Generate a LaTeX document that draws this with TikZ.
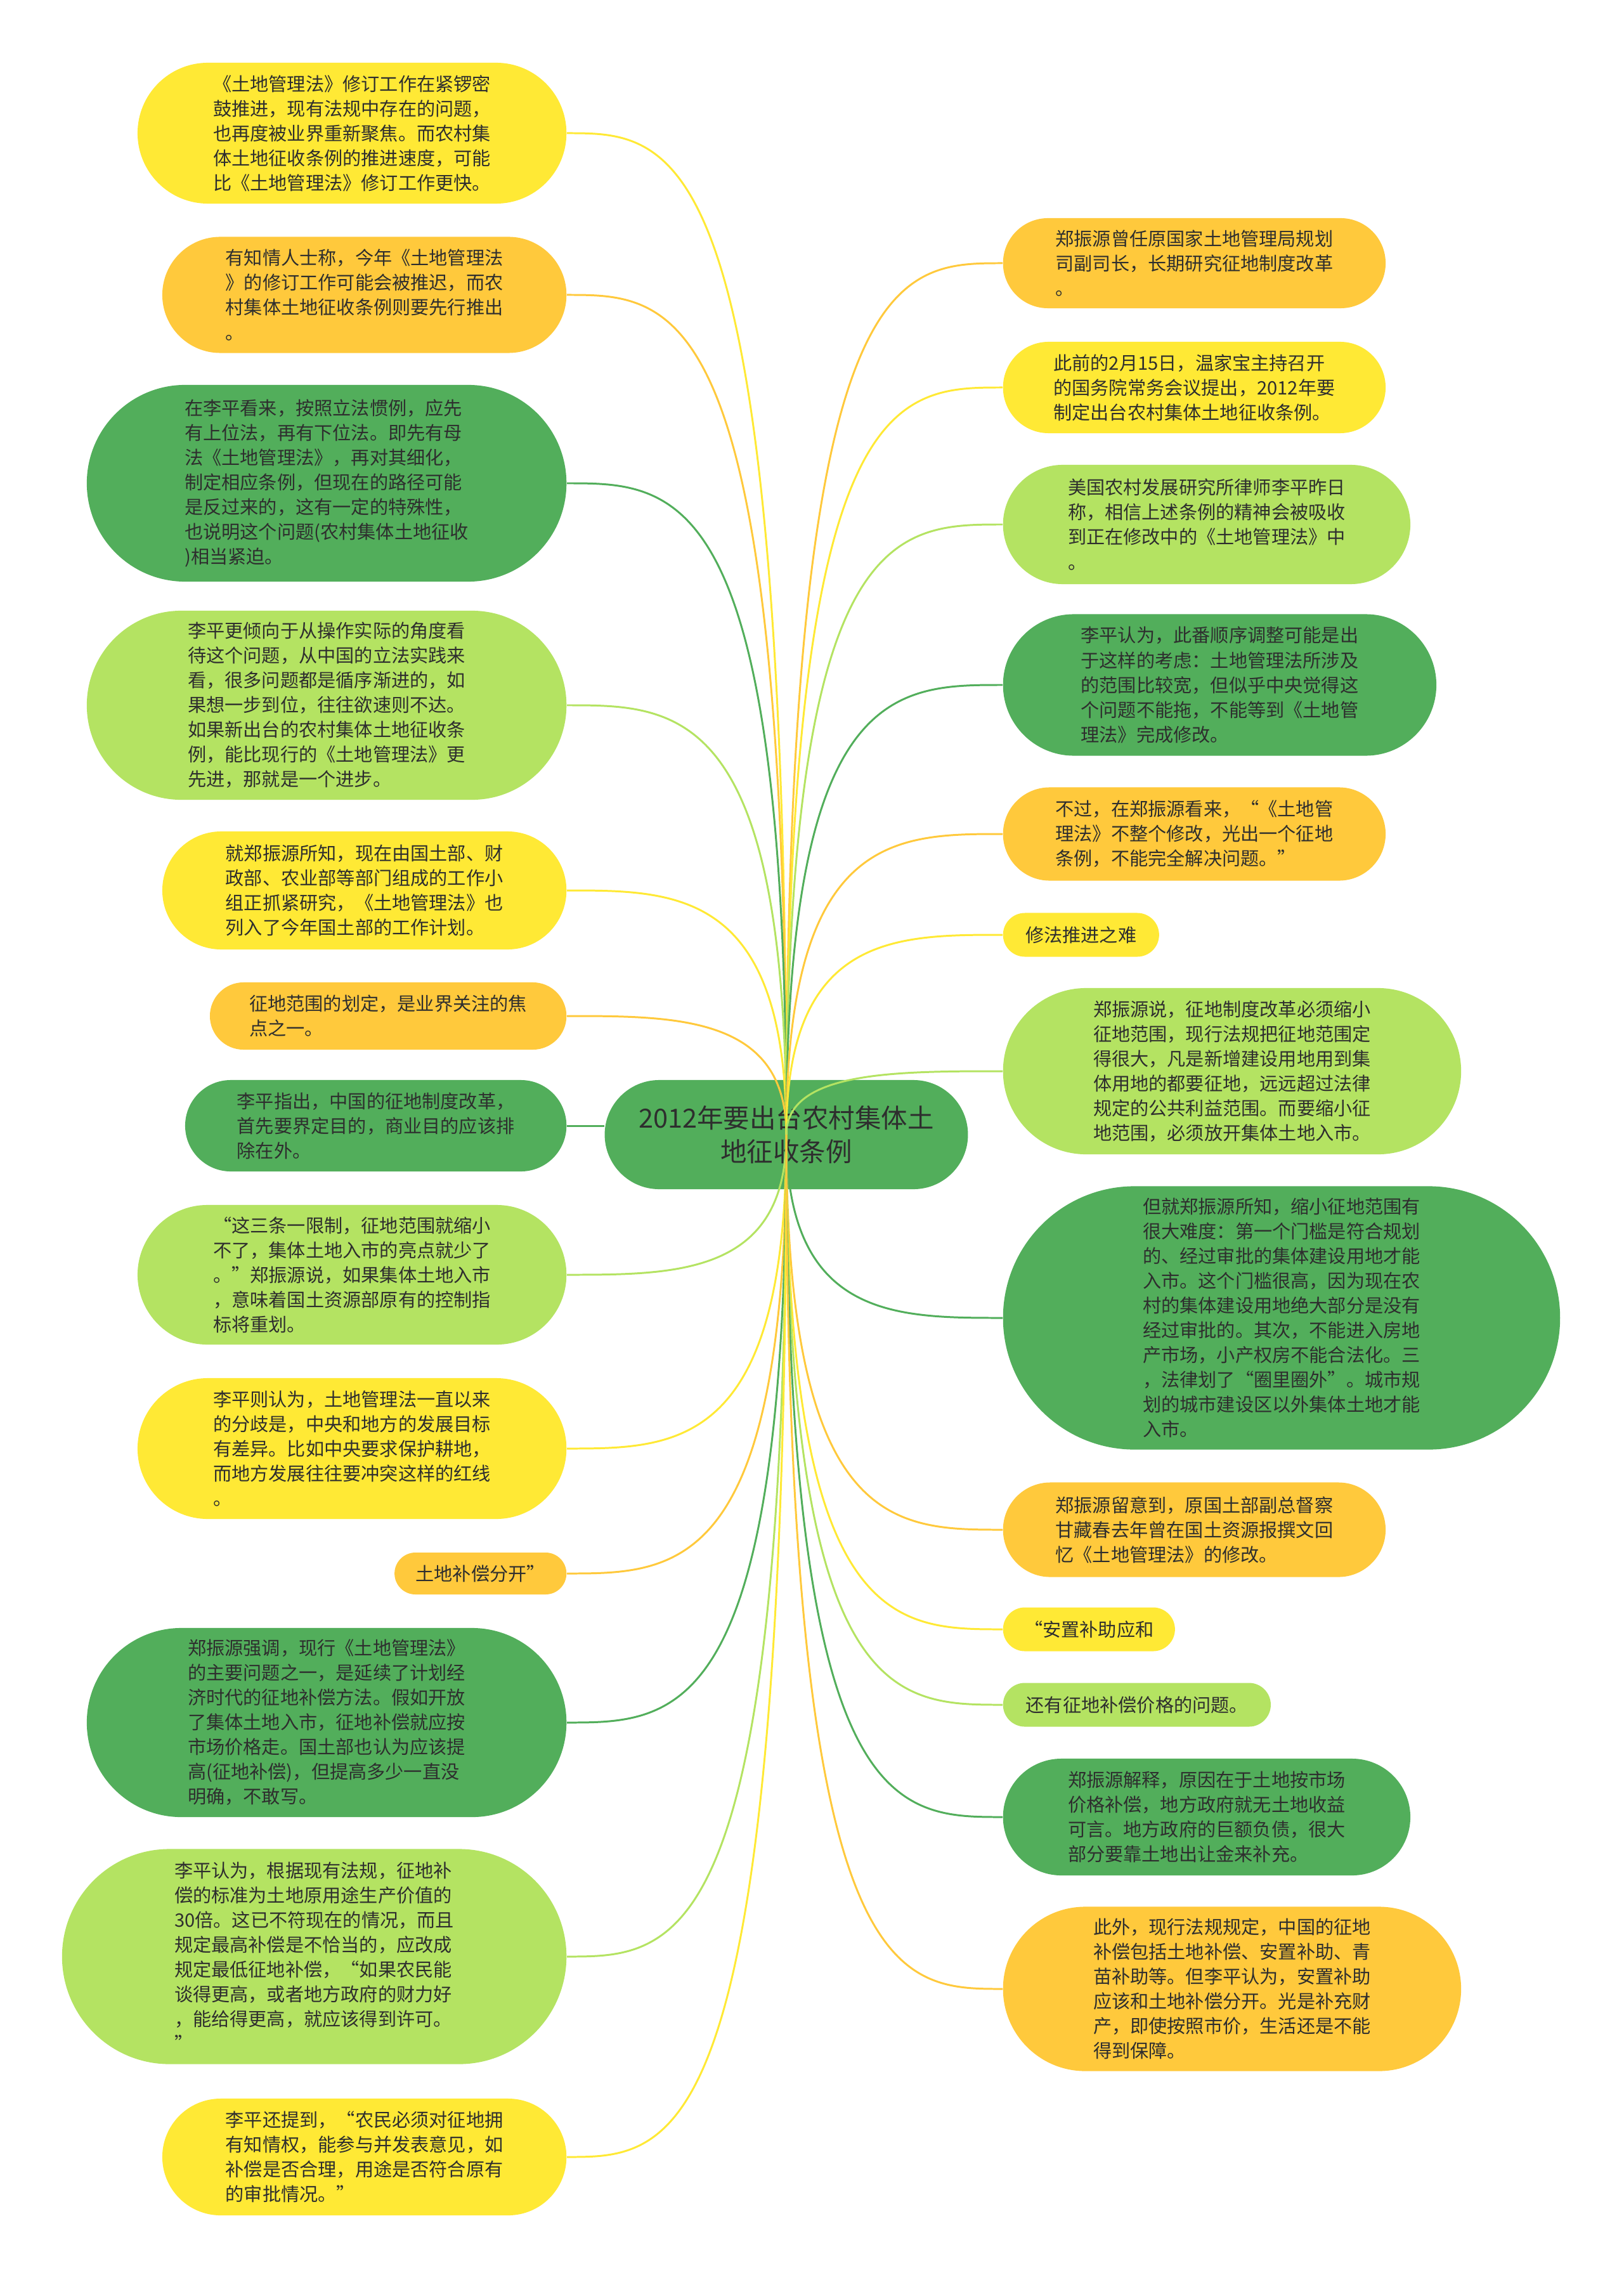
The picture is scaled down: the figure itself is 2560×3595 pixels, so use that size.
\documentclass[tikz,border=0pt]{standalone}
\usepackage{fontspec}
\newfontfamily\cjk{Noto Sans CJK SC}
\usetikzlibrary{shapes.misc}

\definecolor{yel}{HTML}{FFE935}
\definecolor{org}{HTML}{FFC93C}
\definecolor{dgn}{HTML}{52AE5B}
\definecolor{lgn}{HTML}{B4E362}

\begin{document}
\begin{tikzpicture}[x=0.01cm, y=-0.01cm,
  leaf/.style={rounded rectangle, inner sep=0pt, text=black!82, align=left,
    font=\cjk\fontsize{8.3}{11.1}\selectfont},
  link/.style={line width=0.85pt}]

\useasboundingbox (0,0) rectangle (2560,3595);

\node [rounded rectangle, fill=dgn, text=black!82, align=center, minimum width=5.96cm, minimum height=1.72cm,
  font=\cjk\fontsize{11.8}{15}\selectfont] (0) at (1240,1789) {2012年要出台农村集体土\\地征收条例};

% left side
\node [leaf, fill=yel, anchor=east, minimum width=6.76cm, minimum height=2.22cm] (1) at (894,210)
  {《土地管理法》修订工作在紧锣密\\鼓推进，现有法规中存在的问题，\\也再度被业界重新聚焦。而农村集\\体土地征收条例的推进速度，可能\\比《土地管理法》修订工作更快。};
\node [leaf, fill=org, anchor=east, minimum width=6.37cm, minimum height=1.83cm] (2) at (894,465)
  {有知情人士称，今年《土地管理法\\》的修订工作可能会被推迟，而农\\村集体土地征收条例则要先行推出\\。};
\node [leaf, fill=dgn, anchor=east, minimum width=7.56cm, minimum height=3.10cm] (3) at (894,762)
  {在李平看来，按照立法惯例，应先\\有上位法，再有下位法。即先有母\\法《土地管理法》，再对其细化，\\制定相应条例，但现在的路径可能\\是反过来的，这有一定的特殊性，\\也说明这个问题(农村集体土地征收\\)相当紧迫。};
\node [leaf, fill=lgn, anchor=east, minimum width=7.56cm, minimum height=2.98cm] (4) at (894,1112)
  {李平更倾向于从操作实际的角度看\\待这个问题，从中国的立法实践来\\看，很多问题都是循序渐进的，如\\果想一步到位，往往欲速则不达。\\如果新出台的农村集体土地征收条\\例，能比现行的《土地管理法》更\\先进，那就是一个进步。};
\node [leaf, fill=yel, anchor=east, minimum width=6.37cm, minimum height=1.86cm] (5) at (894,1404)
  {就郑振源所知，现在由国土部、财\\政部、农业部等部门组成的工作小\\组正抓紧研究，《土地管理法》也\\列入了今年国土部的工作计划。};
\node [leaf, fill=org, anchor=east, minimum width=5.62cm, minimum height=1.06cm] (6) at (894,1602)
  {征地范围的划定，是业界关注的焦\\点之一。};
\node [leaf, fill=dgn, anchor=east, minimum width=6.01cm, minimum height=1.44cm] (7) at (894,1775)
  {李平指出，中国的征地制度改革，\\首先要界定目的，商业目的应该排\\除在外。};
\node [leaf, fill=lgn, anchor=east, minimum width=6.76cm, minimum height=2.20cm] (8) at (894,2010)
  {“这三条一限制，征地范围就缩小\\不了，集体土地入市的亮点就少了\\。”郑振源说，如果集体土地入市\\，意味着国土资源部原有的控制指\\标将重划。};
\node [leaf, fill=yel, anchor=east, minimum width=6.76cm, minimum height=2.22cm] (9) at (894,2284)
  {李平则认为，土地管理法一直以来\\的分歧是，中央和地方的发展目标\\有差异。比如中央要求保护耕地，\\而地方发展往往要冲突这样的红线\\。};
\node [leaf, fill=org, anchor=east, minimum width=2.71cm, minimum height=0.66cm] (10) at (894,2481)
  {土地补偿分开”};
\node [leaf, fill=dgn, anchor=east, minimum width=7.56cm, minimum height=2.98cm] (11) at (894,2716)
  {郑振源强调，现行《土地管理法》\\的主要问题之一，是延续了计划经\\济时代的征地补偿方法。假如开放\\了集体土地入市，征地补偿就应按\\市场价格走。国土部也认为应该提\\高(征地补偿)，但提高多少一直没\\明确，不敢写。};
\node [leaf, fill=lgn, anchor=east, minimum width=7.95cm, minimum height=3.39cm] (12) at (894,3085)
  {李平认为，根据现有法规，征地补\\偿的标准为土地原用途生产价值的\\30倍。这已不符现在的情况，而且\\规定最高补偿是不恰当的，应改成\\规定最低征地补偿，“如果农民能\\谈得更高，或者地方政府的财力好\\，能给得更高，就应该得到许可。\\”};
\node [leaf, fill=yel, anchor=east, minimum width=6.37cm, minimum height=1.84cm] (13) at (894,3401)
  {李平还提到，“农民必须对征地拥\\有知情权，能参与并发表意见，如\\补偿是否合理，用途是否符合原有\\的审批情况。”};

% right side
\node [leaf, fill=org, anchor=west, minimum width=6.03cm, minimum height=1.42cm] (14) at (1581,415)
  {郑振源曾任原国家土地管理局规划\\司副司长，长期研究征地制度改革\\。};
\node [leaf, fill=yel, anchor=west, minimum width=6.03cm, minimum height=1.44cm] (15) at (1581,611)
  {此前的2月15日，温家宝主持召开\\的国务院常务会议提出，2012年要\\制定出台农村集体土地征收条例。};
\node [leaf, fill=lgn, anchor=west, minimum width=6.42cm, minimum height=1.88cm] (16) at (1581,827)
  {美国农村发展研究所律师李平昨日\\称，相信上述条例的精神会被吸收\\到正在修改中的《土地管理法》中\\。};
\node [leaf, fill=dgn, anchor=west, minimum width=6.83cm, minimum height=2.23cm] (17) at (1581,1080)
  {李平认为，此番顺序调整可能是出\\于这样的考虑：土地管理法所涉及\\的范围比较宽，但似乎中央觉得这\\个问题不能拖，不能等到《土地管\\理法》完成修改。};
\node [leaf, fill=org, anchor=west, minimum width=6.03cm, minimum height=1.47cm] (18) at (1581,1315)
  {不过，在郑振源看来，“《土地管\\理法》不整个修改，光出一个征地\\条例，不能完全解决问题。”};
\node [leaf, fill=yel, anchor=west, minimum width=2.46cm, minimum height=0.69cm] (19) at (1581,1474)
  {修法推进之难};
\node [leaf, fill=lgn, anchor=west, minimum width=7.22cm, minimum height=2.62cm] (20) at (1581,1689)
  {郑振源说，征地制度改革必须缩小\\征地范围，现行法规把征地范围定\\得很大，凡是新增建设用地用到集\\体用地的都要征地，远远超过法律\\规定的公共利益范围。而要缩小征\\地范围，必须放开集体土地入市。};
\node [leaf, fill=dgn, anchor=west, minimum width=8.78cm, minimum height=4.15cm] (21) at (1581,2078)
  {但就郑振源所知，缩小征地范围有\\很大难度：第一个门槛是符合规划\\的、经过审批的集体建设用地才能\\入市。这个门槛很高，因为现在农\\村的集体建设用地绝大部分是没有\\经过审批的。其次，不能进入房地\\产市场，小产权房不能合法化。三\\，法律划了“圈里圈外”。城市规\\划的城市建设区以外集体土地才能\\入市。};
\node [leaf, fill=org, anchor=west, minimum width=6.03cm, minimum height=1.49cm] (22) at (1581,2412)
  {郑振源留意到，原国土部副总督察\\甘藏春去年曾在国土资源报撰文回\\忆《土地管理法》的修改。};
\node [leaf, fill=yel, anchor=west, minimum width=2.71cm, minimum height=0.69cm] (23) at (1581,2569)
  {“安置补助应和};
\node [leaf, fill=lgn, anchor=west, minimum width=4.22cm, minimum height=0.69cm] (24) at (1581,2688)
  {还有征地补偿价格的问题。};
\node [leaf, fill=dgn, anchor=west, minimum width=6.42cm, minimum height=1.84cm] (25) at (1581,2865)
  {郑振源解释，原因在于土地按市场\\价格补偿，地方政府就无土地收益\\可言。地方政府的巨额负债，很大\\部分要靠土地出让金来补充。};
\node [leaf, fill=org, anchor=west, minimum width=7.22cm, minimum height=2.59cm] (26) at (1581,3136)
  {此外，现行法规规定，中国的征地\\补偿包括土地补偿、安置补助、青\\苗补助等。但李平认为，安置补助\\应该和土地补偿分开。光是补充财\\产，即使按照市价，生活还是不能\\得到保障。};

% connectors
\foreach \i/\c in {1/yel,2/org,3/dgn,4/lgn,5/yel,6/org,8/lgn,9/yel,10/org,11/dgn,12/lgn,13/yel}
  \draw[link,\c] (0.center) .. controls (0.center |- \i.east) and ([xshift=1.73cm]\i.east) .. (\i.east);
\draw[link,dgn] (7.east) -- (7.east -| 0.west);

\foreach \i/\c in {14/org,15/yel,16/lgn,17/dgn,18/org,19/yel,20/lgn,21/dgn,22/org,23/yel,24/lgn,25/dgn,26/org}
  \draw[link,\c] (0.center) .. controls (0.center |- \i.west) and ([xshift=-1.7cm]\i.west) .. (\i.west);

\end{tikzpicture}
\end{document}
